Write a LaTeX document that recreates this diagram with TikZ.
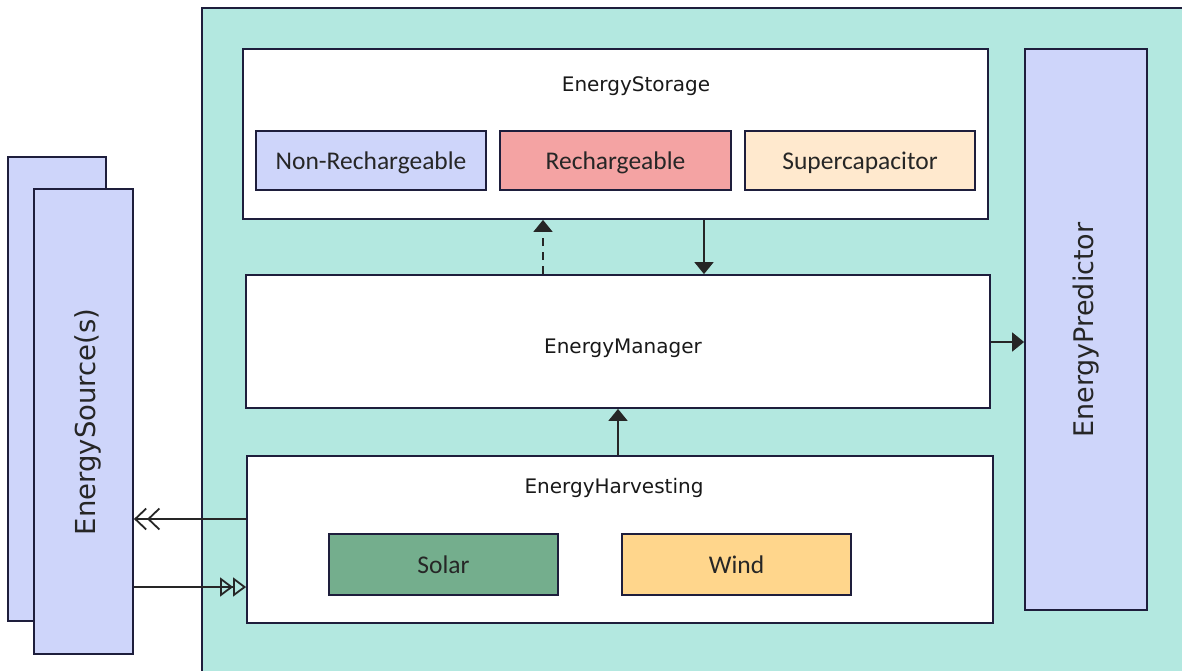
\documentclass[tikz,border=0pt]{standalone}
\usepackage{fontspec}
\setmainfont{DejaVu Sans}
\newfontfamily\partfont{Carlito}
\usetikzlibrary{arrows.meta}
\definecolor{panel}{HTML}{B3E8E0}
\definecolor{edge}{HTML}{1E1E3C}
\definecolor{lav}{HTML}{CED5FA}
\definecolor{rech}{HTML}{F4A3A3}
\definecolor{supc}{HTML}{FFE9CE}
\definecolor{solar}{HTML}{74AE8D}
\definecolor{wind}{HTML}{FFD68C}
\begin{document}
\begin{tikzpicture}[x=1pt,y=-1pt,
  blk/.style={draw=edge, line width=1.8pt, inner sep=0pt, fill=white},
  part/.style={blk, font=\partfont\fontsize{25.5}{30}\selectfont, text=black!85, text depth=0pt},
  title/.style={font=\fontsize{20}{24}\selectfont, text=black!90},
  conn/.style={line width=1.8pt, draw=black!85},
  tip/.style={-{Triangle[length=12pt,width=19pt]}}]
\useasboundingbox (0,0) rectangle (1182,671);
\clip (0,0) rectangle (1182,671);

% outer panel
\fill[panel, draw=edge, line width=1.8pt] (202,8) rectangle (1200,700);

% energy source stack
\node[blk, fill=lav, minimum width=98pt, minimum height=464pt] (srcback) at (57,389) {};
\node[blk, fill=lav, minimum width=99pt, minimum height=465pt] (src) at (83.5,421.5) {};
\node[rotate=90, font=\fontsize{27.5}{32}\selectfont, text=black!85] (srclabel) at (88,422) {EnergySource(s)};

% storage block
\node[blk, minimum width=745pt, minimum height=170pt] (storage) at (615.5,134) {};
\node[title] (storagelabel) at (636,86) {EnergyStorage};
\node[part, fill=lav, minimum width=230pt, minimum height=59pt] (nonrech) at (371,160.5) {Non-Rechargeable};
\node[part, fill=rech, minimum width=231pt, minimum height=59pt] (rechg) at (615.5,160.5) {Rechargeable};
\node[part, fill=supc, minimum width=230pt, minimum height=59pt] (supcap) at (860,160.5) {Supercapacitor};

% manager block
\node[blk, minimum width=744pt, minimum height=133pt] (manager) at (618,341.5) {};
\node[title] (managerlabel) at (623,348) {EnergyManager};

% harvesting block
\node[blk, minimum width=746pt, minimum height=167pt] (harvest) at (620,539.5) {};
\node[title] (harvestlabel) at (614,488) {EnergyHarvesting};
\node[part, fill=solar, minimum width=229pt, minimum height=61pt] (solarbox) at (443.5,564.5) {Solar};
\node[part, fill=wind, minimum width=229pt, minimum height=61pt] (windbox) at (736.5,564.5) {Wind};

% predictor block
\node[blk, fill=lav, minimum width=122pt, minimum height=561pt] (predictor) at (1086,329.5) {};
\node[rotate=90, font=\fontsize{27}{32}\selectfont, text=black!85] (predlabel) at (1086,330) {EnergyPredictor};

% connector guides
\coordinate (xdash) at (543,0);
\coordinate (xdown) at (704,0);
\coordinate (xup) at (618,0);
\coordinate (ypred) at (0,342);
\coordinate (yback) at (0,519);
\coordinate (yfwd) at (0,587);

% connectors
\draw[conn, tip, dashed, dash pattern=on 8pt off 6pt] (manager.north -| xdash) -- (storage.south -| xdash);
\draw[conn, tip] (storage.south -| xdown) -- (manager.north -| xdown);
\draw[conn, tip] (harvest.north -| xup) -- (manager.south -| xup);
\draw[conn, tip] (manager.east |- ypred) -- (predictor.west |- ypred);
\draw[conn, -{Straight Barb[length=11pt,width=21pt]Straight Barb[length=11pt,width=21pt]}] (harvest.west |- yback) -- (src.east |- yback);
\draw[conn, -{Triangle[open,length=13pt,width=19pt]Triangle[open,length=13pt,width=19pt]}] (src.east |- yfwd) -- (harvest.west |- yfwd);
\end{tikzpicture}
\end{document}
